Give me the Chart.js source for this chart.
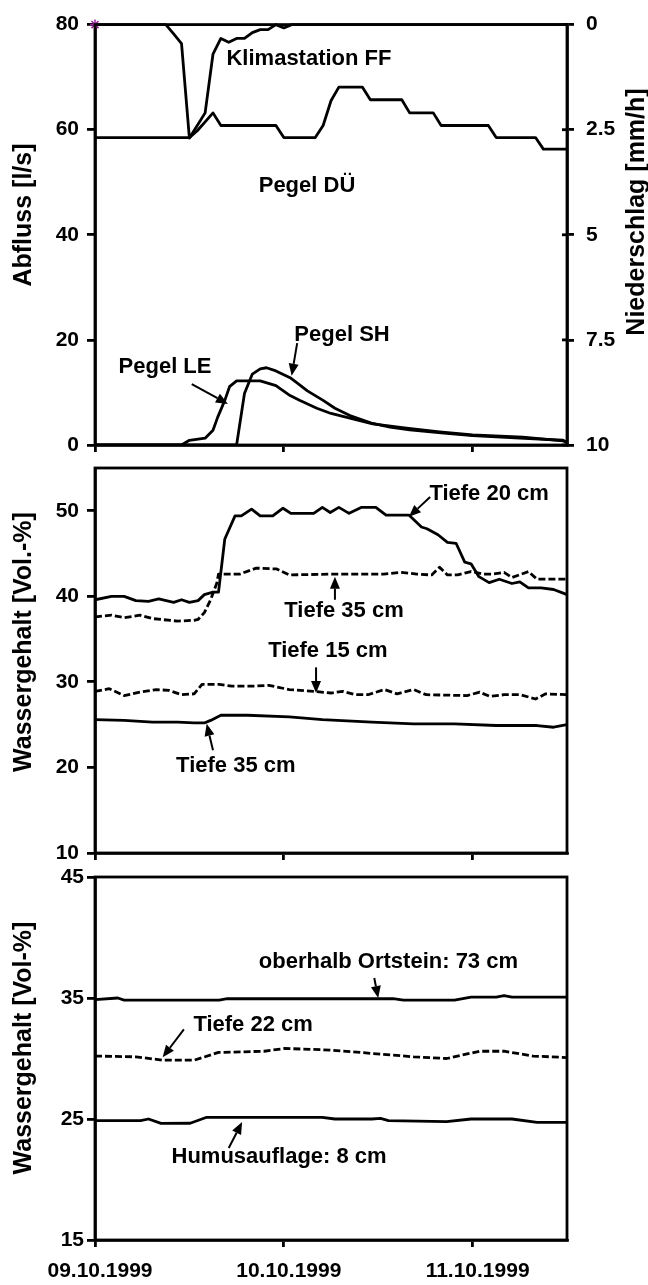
<!DOCTYPE html>
<html>
<head>
<meta charset="utf-8">
<script src="https://cdn.jsdelivr.net/npm/chart.js@4.4.1/dist/chart.umd.min.js"></script>
<style>
  html, body { margin: 0; padding: 0; background: #fff; }
  #wrap { position: relative; width: 648px; height: 1285px; }
  #wrap canvas { position: absolute; left: 0; top: 0; }
</style>
</head>
<body>
<div id="wrap">
  <canvas id="cTop" width="648" height="1285"></canvas>
  <canvas id="cMid" width="648" height="1285"></canvas>
  <canvas id="cBot" width="648" height="1285"></canvas>
</div>
<script>
// Time axis: hours since 09.10.1999 00:00
const dayTicks  = [0, 24, 48];
const dayLabels = ['09.10.1999', '10.10.1999', '11.10.1999'];

// ---- Abfluss / Niederschlag ----
// Niederschlag Klimastation FF [mm/h]
const rainHours  = [0, 9, 10, 11, 12, 13, 14, 15, 16, 17, 18, 19, 20, 21, 22, 23, 24, 25, 60];
const rainValues = [0, 0, 0.22, 0.45, 2.7, 2.4, 2.1, 0.7, 0.33, 0.42, 0.33, 0.33, 0.19, 0.12, 0.12, 0, 0.08, 0, 0];

// Pegel DÜ [l/s]
const duHours  = [0, 12, 13, 14, 15, 16, 23, 24, 28, 29, 30, 31, 34, 35, 39, 40, 43, 44, 50, 51, 56, 57, 60];
const duValues = [58.5, 58.5, 59.8, 61.5, 63.2, 60.8, 60.8, 58.5, 58.5, 60.8, 65.5, 68.1, 68.1, 65.7, 65.7, 63.2, 63.2, 60.8, 60.8, 58.5, 58.5, 56.3, 56.3];

// Pegel SH [l/s]
const shHours  = [0, 18, 19, 20, 21, 21.8, 23, 24.8, 25.6, 27, 29, 30.5, 32.4, 35.3, 37.5, 40, 44, 48, 54, 59.5, 60];
const shValues = [0, 0, 9.8, 13.5, 14.5, 14.7, 14.1, 12.8, 11.9, 10.3, 8.5, 7.0, 5.6, 4.1, 3.4, 2.9, 2.3, 1.8, 1.3, 0.9, 0.4];

// Pegel LE [l/s]
const leHours  = [0, 11, 12, 14, 15, 15.6, 16.5, 17.1, 18, 21, 23, 24.8, 26, 28.2, 30, 32.4, 35.3, 39.6, 43.8, 48, 54.4, 59.5, 60];
const leValues = [0, 0, 0.9, 1.3, 2.8, 5.3, 8.5, 11.1, 12.2, 12.2, 11.3, 9.4, 8.5, 7.0, 6.0, 5.1, 4.0, 3.2, 2.5, 1.9, 1.5, 0.8, 0.5];

// ---- Wassergehalt, Standort 1 [Vol.-%] ----
const t20Hours  = [0, 2.1, 3.7, 5.2, 6.8, 8.1, 10, 11, 12, 13.1, 13.9, 15, 15.7, 16.5, 17.8, 18.6, 19.9, 21, 22.6, 23.9, 24.9, 27.8, 28.9, 29.9, 31, 32.3, 33.9, 35.7, 37, 39.9, 41.5, 42.2, 43.6, 44.8, 45.9, 47, 47.8, 48.8, 50.1, 51.4, 53, 54, 55.1, 56.7, 58.3, 60];
const t20Values = [39.6, 40.0, 40.0, 39.5, 39.4, 39.7, 39.3, 39.6, 39.3, 39.5, 40.2, 40.5, 40.5, 46.7, 49.4, 49.4, 50.2, 49.4, 49.4, 50.3, 49.7, 49.7, 50.4, 49.8, 50.4, 49.7, 50.4, 50.4, 49.5, 49.5, 48.1, 47.9, 47.2, 46.3, 46.2, 44.0, 43.8, 42.3, 41.6, 42.0, 41.5, 41.7, 41.0, 41.0, 40.8, 40.2];

const t35aHours  = [0, 2.1, 3.7, 5.7, 7.3, 10.5, 12.6, 13.1, 13.9, 14.7, 15.5, 15.7, 18.4, 20.5, 23.1, 24.7, 29.9, 36.7, 38.9, 40.9, 42.8, 43.8, 44.8, 46.1, 47.8, 49.3, 50.6, 52, 53, 55.1, 56.2, 60];
const t35aValues = [37.6, 37.8, 37.5, 37.8, 37.4, 37.1, 37.2, 37.3, 38.1, 39.6, 41.6, 42.6, 42.6, 43.3, 43.2, 42.5, 42.6, 42.6, 42.8, 42.6, 42.5, 43.4, 42.5, 42.5, 42.9, 42.6, 42.6, 42.8, 42.2, 42.9, 42.0, 42.0];

const t15Hours  = [0, 1.8, 3.7, 5.7, 7.8, 9.4, 11, 12.6, 13.6, 15.8, 17.4, 20, 22.1, 24.7, 27.8, 30, 31.5, 33.1, 34.7, 36.8, 38.4, 40.5, 42.1, 47.3, 48.9, 50.2, 52, 54.1, 56, 57.3, 60];
const t15Values = [28.9, 29.2, 28.4, 28.8, 29.1, 29.0, 28.5, 28.6, 29.7, 29.7, 29.5, 29.5, 29.6, 29.1, 28.9, 28.7, 28.9, 28.5, 28.5, 29.1, 28.6, 29.1, 28.5, 28.4, 28.8, 28.3, 28.5, 28.5, 28.0, 28.6, 28.5];

const t35bHours  = [0, 3.7, 7.3, 10.5, 12.6, 13.9, 14.7, 16, 19.4, 24.7, 28.9, 35.2, 40.5, 45.7, 51, 56.2, 58.3, 60];
const t35bValues = [25.6, 25.5, 25.3, 25.3, 25.2, 25.2, 25.5, 26.1, 26.1, 25.9, 25.6, 25.3, 25.1, 25.1, 24.9, 24.9, 24.7, 25.0];

// ---- Wassergehalt, Standort 2 [Vol-%] ----
const ortHours  = [0, 2.9, 3.7, 15.8, 16.8, 37.9, 39.2, 45.7, 47.8, 51, 52, 53, 60];
const ortValues = [34.86, 35.0, 34.83, 34.83, 34.94, 34.94, 34.83, 34.83, 35.08, 35.08, 35.2, 35.08, 35.08];

const t22Hours  = [0, 5.2, 8.6, 12.6, 15.7, 21.5, 24.1, 29.9, 35.2, 40.5, 44.7, 48.9, 52, 55.7, 60];
const t22Values = [30.2, 30.14, 29.86, 29.86, 30.5, 30.6, 30.83, 30.7, 30.42, 30.14, 30.0, 30.6, 30.6, 30.2, 30.08];

const humHours  = [0, 5.8, 6.8, 8.4, 12.1, 14.2, 28.9, 30.5, 35.2, 36.3, 37.3, 44.7, 47.8, 53, 56.2, 60];
const humValues = [24.86, 24.86, 25.0, 24.64, 24.65, 25.14, 25.14, 25.0, 25.0, 25.05, 24.86, 24.78, 25.0, 25.0, 24.72, 24.72];

// ---------------------------------------------------------------
const FONT = "'Liberation Sans', Arial, sans-serif";
const tickFont = { family: FONT, size: 21, weight: 'bold' };
const LW = 2.8;

const points = (xs, ys) => xs.map((x, i) => ({ x, y: ys[i] }));

function lineSet(label, xs, ys, extra) {
  return Object.assign({
    label, data: points(xs, ys),
    borderColor: '#000', backgroundColor: '#000',
    borderWidth: LW, pointRadius: 0, tension: 0, fill: false,
    borderJoinStyle: 'round'
  }, extra || {});
}

function xAxis(showLabels, height) {
  return {
    type: 'linear', position: 'bottom', min: 0, max: 60,
    afterBuildTicks: s => { s.ticks = dayTicks.map(v => ({ value: v })); },
    afterFit: s => { s.height = height; },
    grid: { drawOnChartArea: false, drawTicks: true, tickLength: 7, color: '#000', lineWidth: LW },
    border: { display: true, color: '#000', width: LW },
    ticks: {
      display: showLabels, color: '#000', font: tickFont, padding: 12, labelOffset: 5,
      maxRotation: 0, autoSkip: false,
      callback: (v, i) => dayLabels[i]
    }
  };
}

function yAxis(min, max, step, position, width, pad, tickLen, reverse) {
  return {
    type: 'linear', position, min, max, reverse: !!reverse,
    afterFit: s => { s.width = width; },
    grid: { drawOnChartArea: false, drawTicks: true, tickLength: tickLen, color: '#000', lineWidth: LW },
    border: { display: true, color: '#000', width: LW },
    ticks: { stepSize: step, includeBounds: false, color: '#000', font: tickFont, padding: pad }
  };
}

function drawArrow(ctx, x1, y1, x2, y2) {
  const ang = Math.atan2(y2 - y1, x2 - x1), L = 12, W = 5;
  const bx = x2 - L * Math.cos(ang), by = y2 - L * Math.sin(ang);
  ctx.lineWidth = 2;
  ctx.beginPath(); ctx.moveTo(x1, y1); ctx.lineTo(bx, by); ctx.stroke();
  ctx.beginPath();
  ctx.moveTo(x2, y2);
  ctx.lineTo(bx + W * Math.sin(ang), by - W * Math.cos(ang));
  ctx.lineTo(bx - W * Math.sin(ang), by + W * Math.cos(ang));
  ctx.closePath(); ctx.fill();
}

// Frame, labels on the curves, arrows and axis titles
function decorations(cfg) {
  return {
    id: 'decor',
    afterDraw(chart) {
      const { ctx, chartArea: a, scales } = chart;
      const xs = scales.x, ys = scales.y;
      ctx.save();
      ctx.strokeStyle = '#000'; ctx.fillStyle = '#000';
      ctx.lineWidth = LW;
      ctx.strokeRect(a.left, a.top, a.right - a.left, a.bottom - a.top);
      if (scales.y2) {
        scales.y2.ticks.forEach(t => {
          const py = scales.y2.getPixelForValue(t.value);
          ctx.beginPath(); ctx.moveTo(a.right - 5, py); ctx.lineTo(a.right, py); ctx.stroke();
        });
      }
      ctx.font = `bold 22px ${FONT}`;
      ctx.textAlign = 'center'; ctx.textBaseline = 'middle';
      cfg.notes.forEach(n => ctx.fillText(n.text, xs.getPixelForValue(n.x), ys.getPixelForValue(n.y)));
      cfg.arrows.forEach(r => drawArrow(ctx,
        xs.getPixelForValue(r.from[0]), ys.getPixelForValue(r.from[1]),
        xs.getPixelForValue(r.to[0]), ys.getPixelForValue(r.to[1])));
      ctx.font = `bold 25px ${FONT}`;
      ctx.textBaseline = 'alphabetic';
      cfg.titles.forEach(t => {
        ctx.save(); ctx.translate(t.x, t.y); ctx.rotate(-Math.PI / 2);
        ctx.fillText(t.text, 0, 0); ctx.restore();
      });
      ctx.restore();
    }
  };
}

function baseOptions(padding, scales) {
  return {
    responsive: false, maintainAspectRatio: false, animation: false, events: [],
    layout: { padding },
    plugins: { legend: { display: false }, tooltip: { enabled: false } },
    scales
  };
}

// ---- Abfluss / Niederschlag ----
new Chart(document.getElementById('cTop'), {
  type: 'line',
  data: {
    datasets: [
      lineSet('Pegel DÜ', duHours, duValues, { yAxisID: 'y' }),
      lineSet('Pegel SH', shHours, shValues, { yAxisID: 'y' }),
      lineSet('Pegel LE', leHours, leValues, { yAxisID: 'y' }),
      lineSet('Klimastation FF', rainHours, rainValues, {
        yAxisID: 'y2', clip: false,
        pointStyle: 'star',
        pointRadius: c => (c.dataIndex === 0 ? 5 : 0),
        pointBorderColor: '#a020a0', pointBorderWidth: 1.5
      })
    ]
  },
  options: baseOptions({ left: 0, right: 0, top: 20, bottom: 830 }, {
    x: xAxis(false, 10),
    y: yAxis(0, 80, 20, 'left', 95, 8, 8),
    y2: yAxis(0, 10, 2.5, 'right', 81, 12, 7, true)
  }),
  plugins: [decorations({
    notes: [
      { text: 'Klimastation FF', x: 27.2, y: 73.4 },
      { text: 'Pegel DÜ', x: 26.95, y: 49.3 },
      { text: 'Pegel SH', x: 31.4, y: 20.9 },
      { text: 'Pegel LE', x: 8.9, y: 14.9 }
    ],
    arrows: [
      { from: [25.7, 19.4], to: [25.0, 13.2] },
      { from: [12.3, 11.6], to: [16.9, 7.8] }
    ],
    titles: [
      { text: 'Abfluss [l/s]', x: 31, y: 215 },
      { text: 'Niederschlag [mm/h]', x: 644, y: 212 }
    ]
  })]
});

// ---- Wassergehalt, Standort 1 ----
new Chart(document.getElementById('cMid'), {
  type: 'line',
  data: {
    datasets: [
      lineSet('Tiefe 20 cm', t20Hours, t20Values),
      lineSet('Tiefe 35 cm (gestrichelt)', t35aHours, t35aValues, { borderDash: [7, 3] }),
      lineSet('Tiefe 15 cm', t15Hours, t15Values, { borderDash: [7, 3] }),
      lineSet('Tiefe 35 cm', t35bHours, t35bValues)
    ]
  },
  options: baseOptions({ left: 0, right: 81, top: 468, bottom: 422 }, {
    x: xAxis(false, 10),
    y: yAxis(10, 55, 10, 'left', 95, 8, 8)
  }),
  plugins: [decorations({
    notes: [
      { text: 'Tiefe 20 cm', x: 50.1, y: 52.0 },
      { text: 'Tiefe 35 cm', x: 31.65, y: 38.3 },
      { text: 'Tiefe 15 cm', x: 29.6, y: 33.6 },
      { text: 'Tiefe 35 cm', x: 17.9, y: 20.2 }
    ],
    arrows: [
      { from: [42.6, 51.6], to: [39.9, 49.3] },
      { from: [30.5, 39.6], to: [30.5, 42.3] },
      { from: [28.1, 31.7], to: [28.1, 28.7] },
      { from: [15.0, 22.0], to: [14.2, 25.1] }
    ],
    titles: [{ text: 'Wassergehalt [Vol.-%]', x: 31, y: 642 }]
  })]
});

// ---- Wassergehalt, Standort 2 ----
new Chart(document.getElementById('cBot'), {
  type: 'line',
  data: {
    datasets: [
      lineSet('oberhalb Ortstein: 73 cm', ortHours, ortValues),
      lineSet('Tiefe 22 cm', t22Hours, t22Values, { borderDash: [7, 3] }),
      lineSet('Humusauflage: 8 cm', humHours, humValues)
    ]
  },
  options: baseOptions({ left: 0, right: 81, top: 877, bottom: 0 }, {
    x: xAxis(true, 45),
    y: yAxis(15, 45, 10, 'left', 95, 3, 8)
  }),
  plugins: [decorations({
    notes: [
      { text: 'oberhalb Ortstein: 73 cm', x: 37.3, y: 38.0 },
      { text: 'Tiefe 22 cm', x: 20.1, y: 32.8 },
      { text: 'Humusauflage: 8 cm', x: 23.4, y: 21.9 }
    ],
    arrows: [
      { from: [35.5, 36.65], to: [36.0, 35.0] },
      { from: [11.3, 32.4], to: [8.6, 30.1] },
      { from: [17.0, 22.6], to: [18.7, 24.75] }
    ],
    titles: [{ text: 'Wassergehalt [Vol-%]', x: 31, y: 1048 }]
  })]
});
</script>
</body>
</html>
